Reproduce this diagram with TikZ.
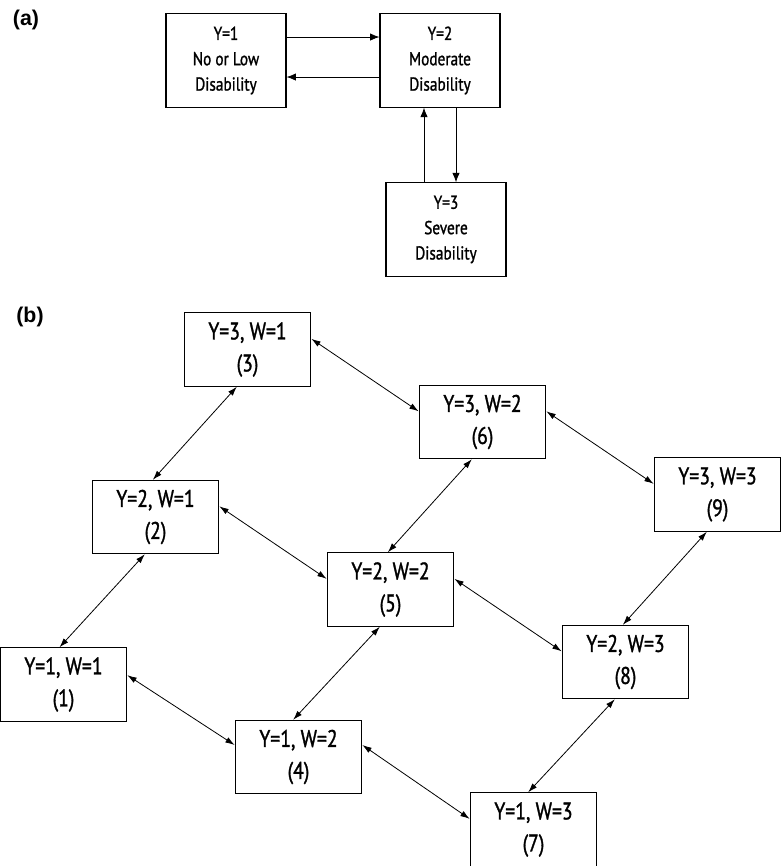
\documentclass[tikz,border=0pt]{standalone}
\usepackage{fontspec}
\setsansfont{Liberation Sans}
\newfontfamily\boxfont[FakeStretch=0.82,FakeBold=1.2]{PT Sans}
\usetikzlibrary{arrows.meta,positioning}

\tikzset{
  statebox/.style={draw, line width=0.8pt, minimum width=90pt, minimum height=70pt, align=center, font=\boxfont\fontsize{14}{19}\selectfont, inner sep=0pt},
  cellbox/.style={draw, line width=0.8pt, minimum width=95pt, minimum height=55pt, align=center, font=\boxfont\fontsize{18}{24}\selectfont, inner sep=0pt},
  panel/.style={font=\sffamily\bfseries\fontsize{16}{19}\selectfont},
  flow/.style={line width=0.6pt, -{Latex[length=7pt,width=5.5pt]}},
  both/.style={line width=0.6pt, {Latex[length=7pt,width=4.5pt]}-{Latex[length=7pt,width=4.5pt]}}
}

\begin{document}
\begin{tikzpicture}[x=0.75pt, y=-0.75pt]
  \useasboundingbox (0,0) rectangle (781,866);

  % Panel (a)
  \node[panel] (la) at (26,20) {(a)};
  \node[statebox] (a1) at (226,60.5) {Y=1\\No or Low\\Disability};
  \node[statebox] (a2) at (440,60.5) {Y=2\\Moderate\\Disability};
  \node[statebox] (a3) at (446,229.5) {Y=3\\Severe\\Disability};

  % Transitions between disability levels
  \draw[flow] ([yshift=17.6pt]a1.east) -- ([yshift=17.6pt]a2.west);
  \draw[flow] ([yshift=-12.4pt]a2.west) -- ([yshift=-12.4pt]a1.east);
  \draw[flow] ([xshift=12pt]a2.south) -- ([xshift=12pt]a2.south |- a3.north);
  \draw[flow] ([xshift=-16.5pt]a3.north) -- ([xshift=-16.5pt]a3.north |- a2.south);

  % Panel (b)
  \node[panel] (lb) at (30,317) {(b)};

  % W=1 column
  \node[cellbox] (b1) at (63.5,684.5) {Y=1, W=1\\(1)};
  \node[cellbox] (b2) at (155.5,517) {Y=2, W=1\\(2)};
  \node[cellbox] (b3) at (247.5,349.5) {Y=3, W=1\\(3)};

  % W=2 column
  \node[cellbox] (b4) at (298.5,757) {Y=1, W=2\\(4)};
  \node[cellbox] (b5) at (390.5,589.5) {Y=2, W=2\\(5)};
  \node[cellbox] (b6) at (482.5,422) {Y=3, W=2\\(6)};

  % W=3 column
  \node[cellbox] (b7) at (533.5,829.5) {Y=1, W=3\\(7)};
  \node[cellbox] (b8) at (625.5,662) {Y=2, W=3\\(8)};
  \node[cellbox] (b9) at (717.5,494.5) {Y=3, W=3\\(9)};

  % Changes in Y (same W)
  \draw[both] ([xshift=-3pt]b1.north) -- ([xshift=-8pt]b2.south);
  \draw[both] ([xshift=-2pt]b2.north) -- ([xshift=-8pt]b3.south);
  \draw[both] ([xshift=-4pt]b4.north) -- ([xshift=-8pt]b5.south);
  \draw[both] ([xshift=-2pt]b5.north) -- ([xshift=-8pt]b6.south);
  \draw[both] ([xshift=-4pt]b7.north) -- ([xshift=-8pt]b8.south);
  \draw[both] ([xshift=-2pt]b8.north) -- ([xshift=-8pt]b9.south);

  % Changes in W (same Y)
  \draw[both] ([yshift=7pt]b1.east) -- ([yshift=9pt]b4.west);
  \draw[both] ([yshift=9pt]b4.east) -- ([yshift=8pt]b7.west);
  \draw[both] ([yshift=8pt]b2.east) -- ([yshift=8pt]b5.west);
  \draw[both] ([yshift=8pt]b5.east) -- ([yshift=8pt]b8.west);
  \draw[both] ([yshift=8pt]b3.east) -- ([yshift=8pt]b6.west);
  \draw[both] ([yshift=8pt]b6.east) -- ([yshift=8pt]b9.west);
\end{tikzpicture}
\end{document}
